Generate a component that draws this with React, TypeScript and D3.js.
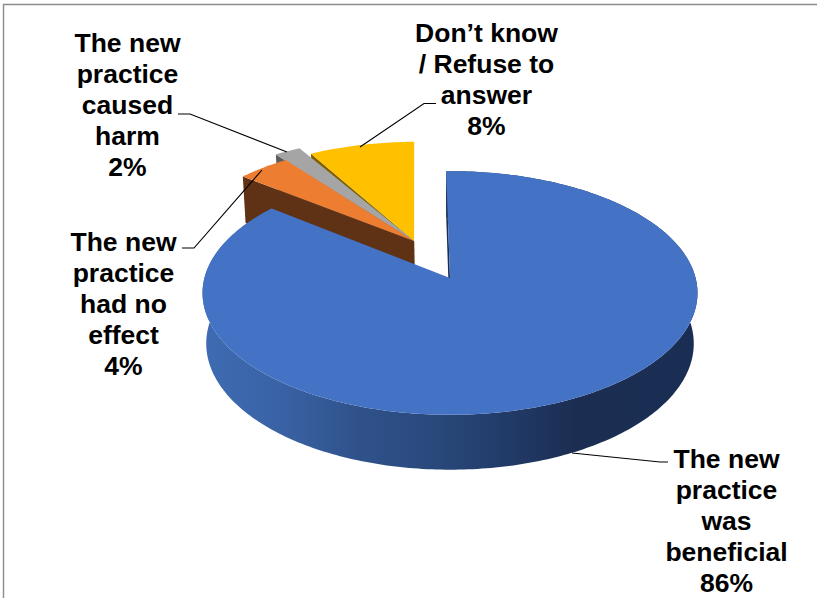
import React from "react";
import * as d3 from "d3";

// Survey responses, clockwise from twelve o'clock
const categories = [
  "The new practice was beneficial",
  "The new practice had no effect",
  "The new practice caused harm",
  "Don\u2019t know / Refuse to answer",
];
const shares = [86, 4, 2, 8];
const topColors = ["#4472C4", "#ED7D31", "#A5A5A5", "#FFC000"];
const faceColors = ["#1a2d53", "#5f3216", "#5c5c5c", "#7f6000"];

const labelLines = [
  ["The new", "practice", "was", "beneficial", "86%"],
  ["The new", "practice", "had no", "effect", "4%"],
  ["The new", "practice", "caused", "harm", "2%"],
  ["Don\u2019t know", "/ Refuse to", "answer", "8%"],
];
const labelCenters = [726.5, 123.5, 127.5, 486.5];
const labelFirstBaselines = [468, 251, 52, 42];

const leaderLines: [number, number][][] = [
  [[668, 462], [660, 462], [572, 453]],
  [[182, 248], [194, 248], [262, 170]],
  [[178, 114], [190, 114], [287, 152]],
  [[436, 103.5], [424, 103.5], [360, 147]],
];

const wallStops = [
  [0, "#3e6bb2"],
  [0.15, "#3a63a6"],
  [0.31, "#30528b"],
  [0.45, "#2a4a7e"],
  [0.6, "#223c6a"],
  [0.75, "#1b2e52"],
  [1, "#1a2d53"],
] as const;

// Perspective model of the pie: unit disc on the ground plane, z = 1 at the base
const cx = 450;
const cy = 278;
const radiusX = 245.6;
const radiusY = 120;
const tilt = 0.123;
const shrink = 0.015;
const depth = 51;
const rotation = (-1 * Math.PI) / 180;

// Ground-plane shift of each pulled-out slice, for the point and for the rim
const apexShift: [number, number][] = [[0, 0], [-0.152, 0.32], [-0.152, 0.32], [-0.152, 0.32]];
const rimShift: [number, number][] = [[0, 0], [-0.16, 0.32], [-0.21, 0.38], [-0.152, 0.32]];

function project(u: number, v: number, z = 0): [number, number] {
  const w = 1 + tilt * v + shrink * z;
  return [cx + (radiusX * u) / w, cy + (-radiusY * v + depth * z) / w];
}

const slices = d3
  .pie<number>()
  .sort(null)
  .startAngle(rotation)
  .endAngle(rotation + 2 * Math.PI)(shares);

const outline = d3.line();

function rim(i: number, z: number): [number, number][] {
  const { startAngle, endAngle } = slices[i];
  const [du, dv] = rimShift[i];
  const steps = Math.max(8, Math.ceil((endAngle - startAngle) * 60));
  return d3.range(steps + 1).map((k) => {
    const t = startAngle + ((endAngle - startAngle) * k) / steps;
    return project(du + Math.sin(t), dv + Math.cos(t), z);
  });
}

function apex(i: number, z: number) {
  return project(apexShift[i][0], apexShift[i][1], z);
}

function topPath(i: number) {
  return outline([apex(i, 0), ...rim(i, 0)]) + "Z";
}

function outerWall(i: number) {
  return outline([...rim(i, 0), ...rim(i, 1).reverse()]) + "Z";
}

// Cut face running from the rim to the point, on the slice's leading edge
function cutFace(i: number) {
  const top = rim(i, 0);
  const base = rim(i, 1);
  return outline([top[0], base[0], apex(i, 1), apex(i, 0)]) + "Z";
}

export default function App() {
  return (
    <svg
      width={817}
      height={598}
      style={{ position: "absolute", left: 0, top: 0, fontFamily: "'Liberation Sans', Arial, sans-serif" }}
    >
      <defs>
        <linearGradient id="wall" gradientUnits="userSpaceOnUse" x1={203} x2={698} y1={0} y2={0}>
          {wallStops.map(([o, c]) => (
            <stop key={o} offset={o} stopColor={c} />
          ))}
        </linearGradient>
      </defs>
      <rect x={0} y={0} width={817} height={598} fill="#ffffff" />
      <path d="M3.5 598V4.5H817" fill="none" stroke="#8c8c8c" strokeWidth={1.4} />

      {/* pulled-out slices, walls first */}
      <path d={cutFace(3)} fill={faceColors[3]} />
      <path d={cutFace(2)} fill={faceColors[2]} />
      <path d={cutFace(1)} fill={faceColors[1]} />
      <path d={topPath(3)} fill={topColors[3]} />
      <path d={topPath(2)} fill={topColors[2]} />
      <path d={topPath(1)} fill={topColors[1]} />

      {/* large slice */}
      <path d={outerWall(0)} fill="url(#wall)" />
      <path d={cutFace(0)} fill={faceColors[0]} />
      <path d={topPath(0)} fill={topColors[0]} />

      {leaderLines.map((pts, i) => (
        <path key={i} d={outline(pts) ?? ""} fill="none" stroke="#000000" strokeWidth={1.1} />
      ))}

      {labelLines.map((lines, i) => (
        <text
          key={categories[i]}
          textAnchor="middle"
          fontSize={26.5}
          fontWeight={700}
          fill="#000000"
        >
          {lines.map((line, j) => (
            <tspan key={j} x={labelCenters[i]} y={labelFirstBaselines[i] + j * 31}>
              {line}
            </tspan>
          ))}
        </text>
      ))}
    </svg>
  );
}
